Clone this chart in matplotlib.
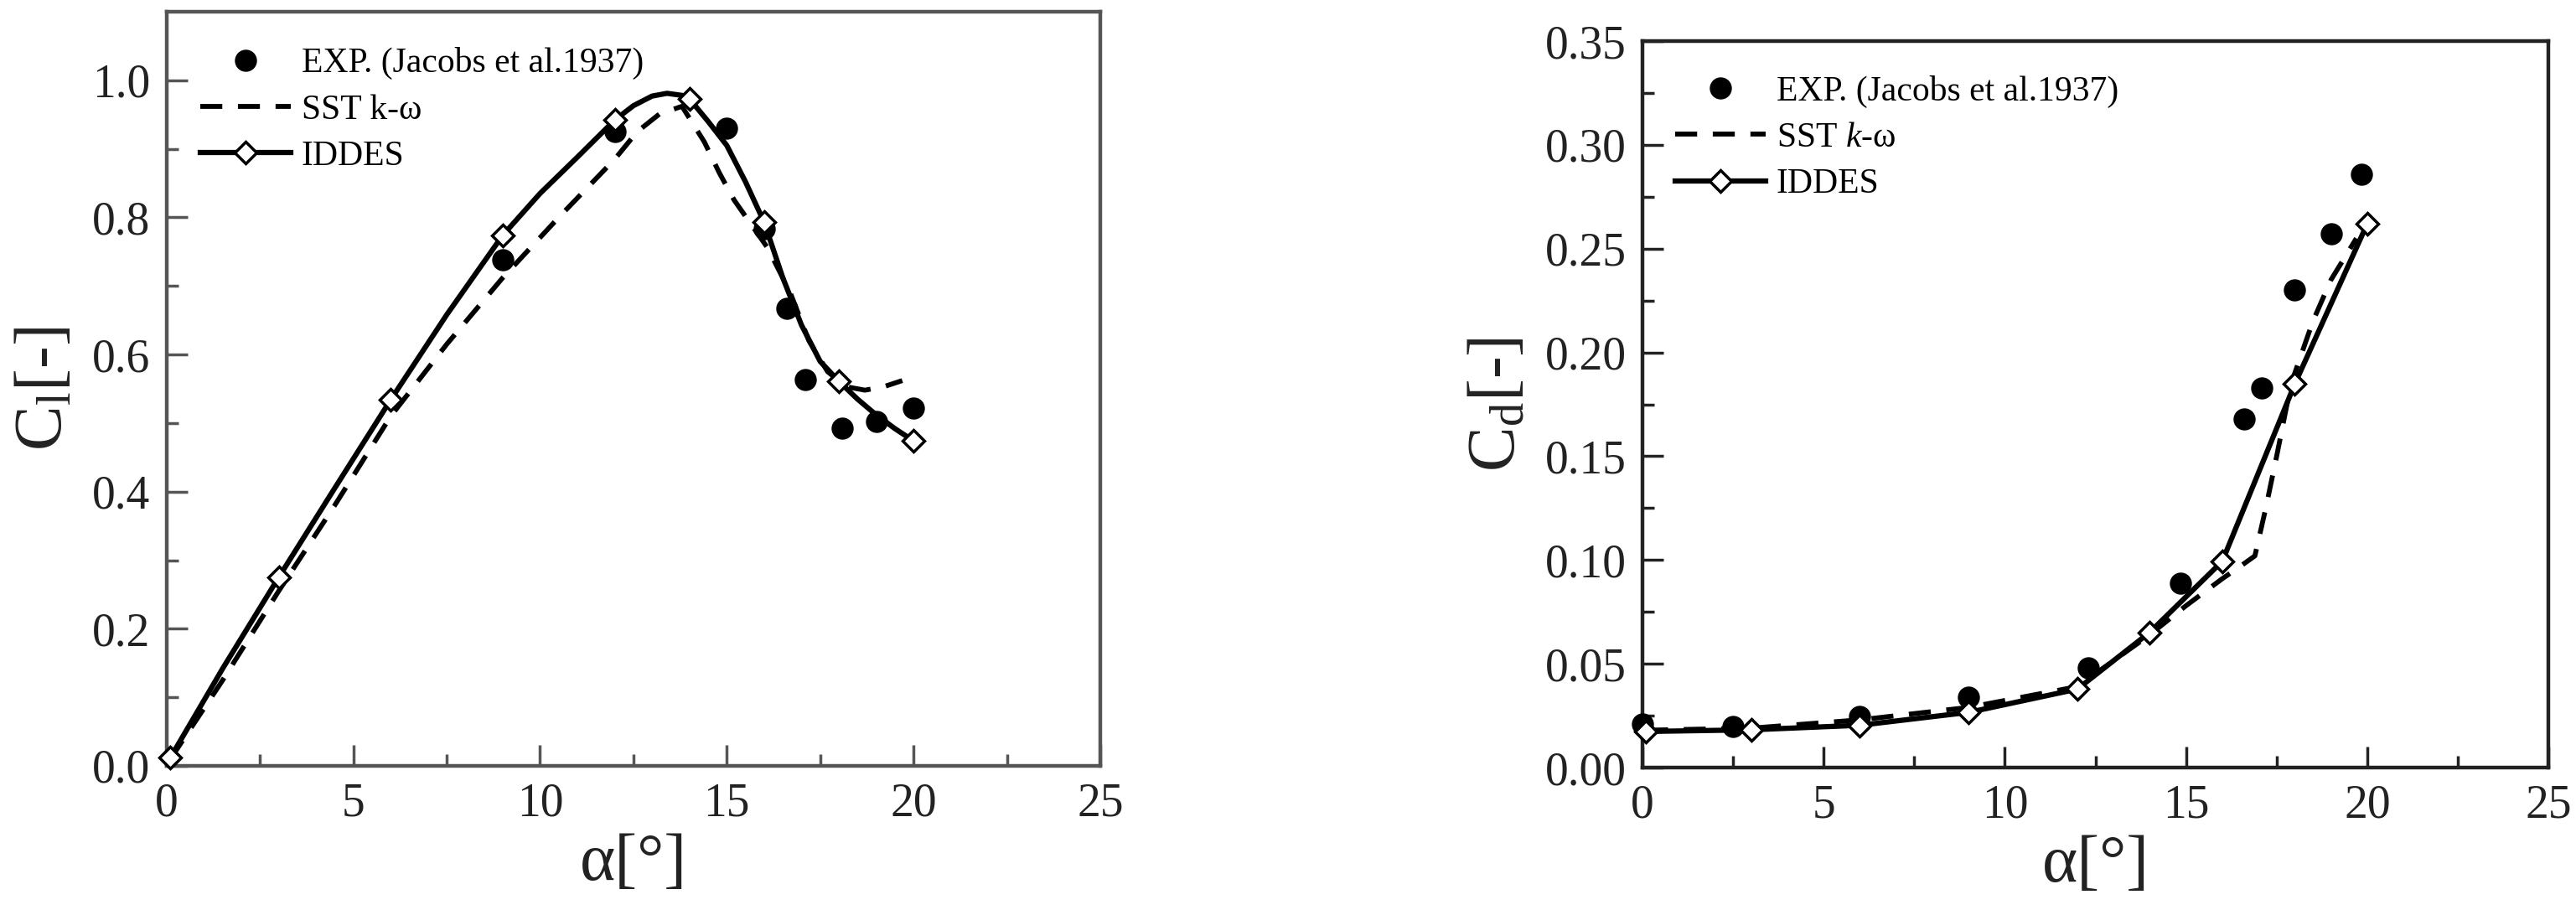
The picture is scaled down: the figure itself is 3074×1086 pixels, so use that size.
import matplotlib
matplotlib.use("Agg")
import matplotlib.pyplot as plt
import numpy as np

plt.rcParams['font.family'] = ['Liberation Serif', 'DejaVu Serif']
plt.rcParams['mathtext.fontset'] = 'custom'
plt.rcParams['mathtext.rm'] = 'Liberation Serif'
plt.rcParams['mathtext.it'] = 'Liberation Serif:italic'

# ---- lift coefficient (left) ----
cl_exp_a = [9.0, 12.0, 15.0, 16.0, 16.6, 17.1, 18.1, 19.0, 20.0]
cl_exp = [0.738, 0.925, 0.93, 0.783, 0.667, 0.564, 0.493, 0.502, 0.522]

cl_sst_a = [0.1, 1.5, 3, 4.5, 6, 7.5, 9, 10.5, 12, 12.6, 13.2, 13.8, 14.4, 14.8, 15.2,
            16.1, 16.7, 17.2, 17.7, 18.2, 18.7, 19.2, 19.7]
cl_sst = [0.01, 0.125, 0.255, 0.38, 0.51, 0.615, 0.712, 0.80, 0.885, 0.925, 0.951, 0.962,
          0.91, 0.865, 0.825, 0.755, 0.69, 0.62, 0.575, 0.553, 0.548, 0.553, 0.562]

cl_iddes_a = [0.1, 1.5, 3, 4.5, 6, 7.5, 9, 10, 11, 12, 12.5, 13, 13.4, 13.8, 14, 14.5,
              15, 15.5, 16, 16.5, 17, 17.5, 18, 18.5, 19, 19.5, 20]
cl_iddes = [0.012, 0.142, 0.275, 0.405, 0.534, 0.658, 0.774, 0.835, 0.888, 0.942, 0.963,
            0.977, 0.981, 0.978, 0.973, 0.94, 0.905, 0.852, 0.793, 0.712, 0.643, 0.59,
            0.561, 0.535, 0.512, 0.492, 0.474]
iddes_runs = [0.1, 3, 6, 9, 12, 14, 16, 18, 20]

# ---- drag coefficient (right) ----
cd_exp_a = [0.0, 2.5, 6.0, 9.0, 12.3, 14.85, 16.6, 17.1, 18.0, 19.0, 19.85]
cd_exp = [0.021, 0.020, 0.0245, 0.034, 0.048, 0.089, 0.168, 0.183, 0.230, 0.257, 0.286]

cd_sst_a = [0.1, 3, 6, 9, 12, 14, 15, 16, 16.5, 16.9, 17.2, 17.5, 17.9, 18.5, 19.0, 19.7]
cd_sst = [0.018, 0.019, 0.023, 0.029, 0.039, 0.064, 0.078, 0.091, 0.097, 0.102, 0.125,
          0.15, 0.185, 0.215, 0.235, 0.255]

cd_iddes_a = [0.1, 3, 6, 9, 12, 14, 16, 18, 20]
cd_iddes = [0.0174, 0.0182, 0.0204, 0.0266, 0.0378, 0.0652, 0.0994, 0.1848, 0.262]

fig = plt.figure(figsize=(30.74, 10.86), dpi=100)
ax1 = fig.add_axes([0.0647, 0.1584, 0.3624, 0.8287])
ax2 = fig.add_axes([0.6376, 0.1565, 0.3517, 0.7983])

def draw(ax, ea, ev, sa, sv, ia, iv, sst_label, ylim, ystep, ylabel, spine_col):
    ax.plot(sa, sv, color='black', lw=4.2, dashes=(4.5, 3.2), label=sst_label, zorder=2)
    ax.plot(ea, ev, 'o', color='black', ms=18, ls='none', clip_on=False, zorder=3,
            label='EXP. (Jacobs et al.1937)')
    idx = [i for i, a in enumerate(ia) if a in iddes_runs]
    ax.plot(ia, iv, color='black', lw=4.5, marker='D', ms=13, mfc='white', mec='black',
            mew=2.5, markevery=idx, clip_on=False, zorder=4, label='IDDES')
    ax.set_xlim(0, 25)
    ax.set_ylim(*ylim)
    ax.set_xticks(np.arange(0, 26, 5))
    ax.set_xticks(np.arange(2.5, 25, 5), minor=True)
    ax.set_yticks(np.arange(0, ylim[1] + 1e-9, ystep))
    ax.set_yticks(np.arange(ystep / 2, ylim[1], ystep), minor=True)
    ax.tick_params(which='both', direction='in', width=2.5, colors=spine_col,
                   labelcolor='#222222', labelsize=40, pad=14)
    ax.tick_params(which='major', length=18)
    ax.tick_params(which='minor', length=10)
    for s in ax.spines.values():
        s.set_linewidth(3.2)
        s.set_color(spine_col)
    ax.set_xlabel('α[°]', fontsize=58, labelpad=6, color='#222222')
    ax.set_ylabel(ylabel, fontsize=58, labelpad=14, color='#222222')
    h, l = ax.get_legend_handles_labels()
    order = [1, 0, 2]
    ax.legend([h[i] for i in order], [l[i] for i in order], loc='upper left',
              bbox_to_anchor=(0.036, 0.953), frameon=False, fontsize=30, numpoints=1,
              handlelength=2.6, handletextpad=0.3, labelspacing=0.4, borderpad=0,
              borderaxespad=0)

draw(ax1, cl_exp_a, cl_exp, cl_sst_a, cl_sst, cl_iddes_a, cl_iddes,
     'SST k-ω', (0, 1.1), 0.2, r'C$_\mathrm{l}$[-]', '#555555')
ax1.yaxis.set_major_formatter(matplotlib.ticker.FormatStrFormatter('%.1f'))

draw(ax2, cd_exp_a, cd_exp, cd_sst_a, cd_sst, cd_iddes_a, cd_iddes,
     r'SST $k$-ω', (0, 0.35), 0.05, r'C$_\mathrm{d}$[-]', '#222222')
ax2.yaxis.set_major_formatter(matplotlib.ticker.FormatStrFormatter('%.2f'))

fig.savefig('out.png', dpi=100)
